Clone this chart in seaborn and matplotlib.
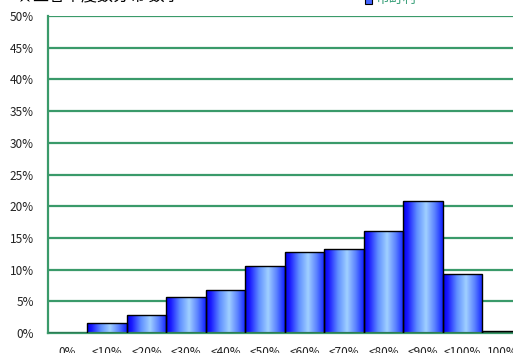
import numpy as np
import pandas as pd
import matplotlib
matplotlib.use("Agg")
import matplotlib.pyplot as plt
from matplotlib.colors import LinearSegmentedColormap
import seaborn as sns

# 正答率の階級と度数割合(%)
categories = ["0%", "<10%", "<20%", "<30%", "<40%", "<50%",
              "<60%", "<70%", "<80%", "<90%", "<100%", "100%"]
shares = [0.0, 1.6, 2.8, 5.6, 6.8, 10.5, 12.7, 13.3, 16.1, 20.8, 9.3, 0.3]
series_name = "市町村"
title_text = "★正答率度数分布 数学"
y_ticks = [0, 5, 10, 15, 20, 25, 30, 35, 40, 45, 50]

sns.set_theme(style="white")
plt.rcParams["font.family"] = ["Noto Sans CJK JP", "DejaVu Sans"]

GREEN = "#3a9a6a"

df = pd.DataFrame({"class": categories, "share": shares})

fig = plt.figure(figsize=(5.13, 3.53), dpi=100)
ax = fig.add_axes([47.8 / 513, 1 - 333 / 353, 474 / 513, 317 / 353])

sns.barplot(data=df, x="class", y="share", ax=ax, width=1.0,
            color="#3355ff", edgecolor="black", linewidth=1.0,
            saturation=1, zorder=3)

# 横方向のグラデーション塗り
cmap = LinearSegmentedColormap.from_list(
    "bar", [(0.0, "#0000f0"), (0.12, "#1a1aff"), (0.35, "#5f8fff"),
            (0.58, "#a0d0ff"), (0.8, "#5a80ff"), (1.0, "#1020ff")])
grad = np.linspace(0, 1, 256).reshape(1, -1)
for p in ax.patches:
    x0, y0 = p.get_x(), p.get_y()
    w, h = p.get_width(), p.get_height()
    if h <= 0:
        continue
    im = ax.imshow(grad, cmap=cmap, aspect="auto",
                   extent=[x0, x0 + w, y0, y0 + h], zorder=2.5,
                   interpolation="bilinear")
    im.set_clip_path(p)
    p.set_facecolor("none")
ax.set_xlim(-0.5, len(categories) - 0.5)
ax.set_ylim(0, 50)

# 目盛と罫線
ax.set_yticks(y_ticks)
ax.set_yticklabels([f"{v}%" for v in y_ticks])
ax.yaxis.grid(True, color=GREEN, linewidth=1.6, zorder=1)
ax.set_axisbelow(True)
ax.tick_params(axis="y", length=0, pad=10, labelsize=8.5)
ax.tick_params(axis="x", which="major", length=0, pad=9, labelsize=8.5)
ax.set_xticks(np.arange(-0.5, len(categories), 1.0), minor=True)
ax.tick_params(axis="x", which="minor", length=2, width=1.2, color=GREEN, direction="in")
for lbl in ax.get_yticklabels() + ax.get_xticklabels():
    lbl.set_color("#222222")

ax.set_xlabel("")
ax.set_ylabel("")
for side in ["left", "bottom"]:
    ax.spines[side].set_color(GREEN)
    ax.spines[side].set_linewidth(1.6)
for side in ["top", "right"]:
    ax.spines[side].set_visible(False)

# タイトルと凡例
fig.text(17 / 513, 1 + 3 / 353, title_text, fontsize=11.5, color="black",
         ha="left", va="center")
fig.patches.append(plt.Rectangle((365 / 513, 1 - 4 / 353), 7 / 513, 7 / 353,
                                 transform=fig.transFigure, facecolor="#4466ff",
                                 edgecolor="black", linewidth=0.8))
fig.text(375 / 513, 1 + 1 / 353, series_name, fontsize=10, color="#3aa07a",
         ha="left", va="center")

fig.savefig("out.png", dpi=100)
